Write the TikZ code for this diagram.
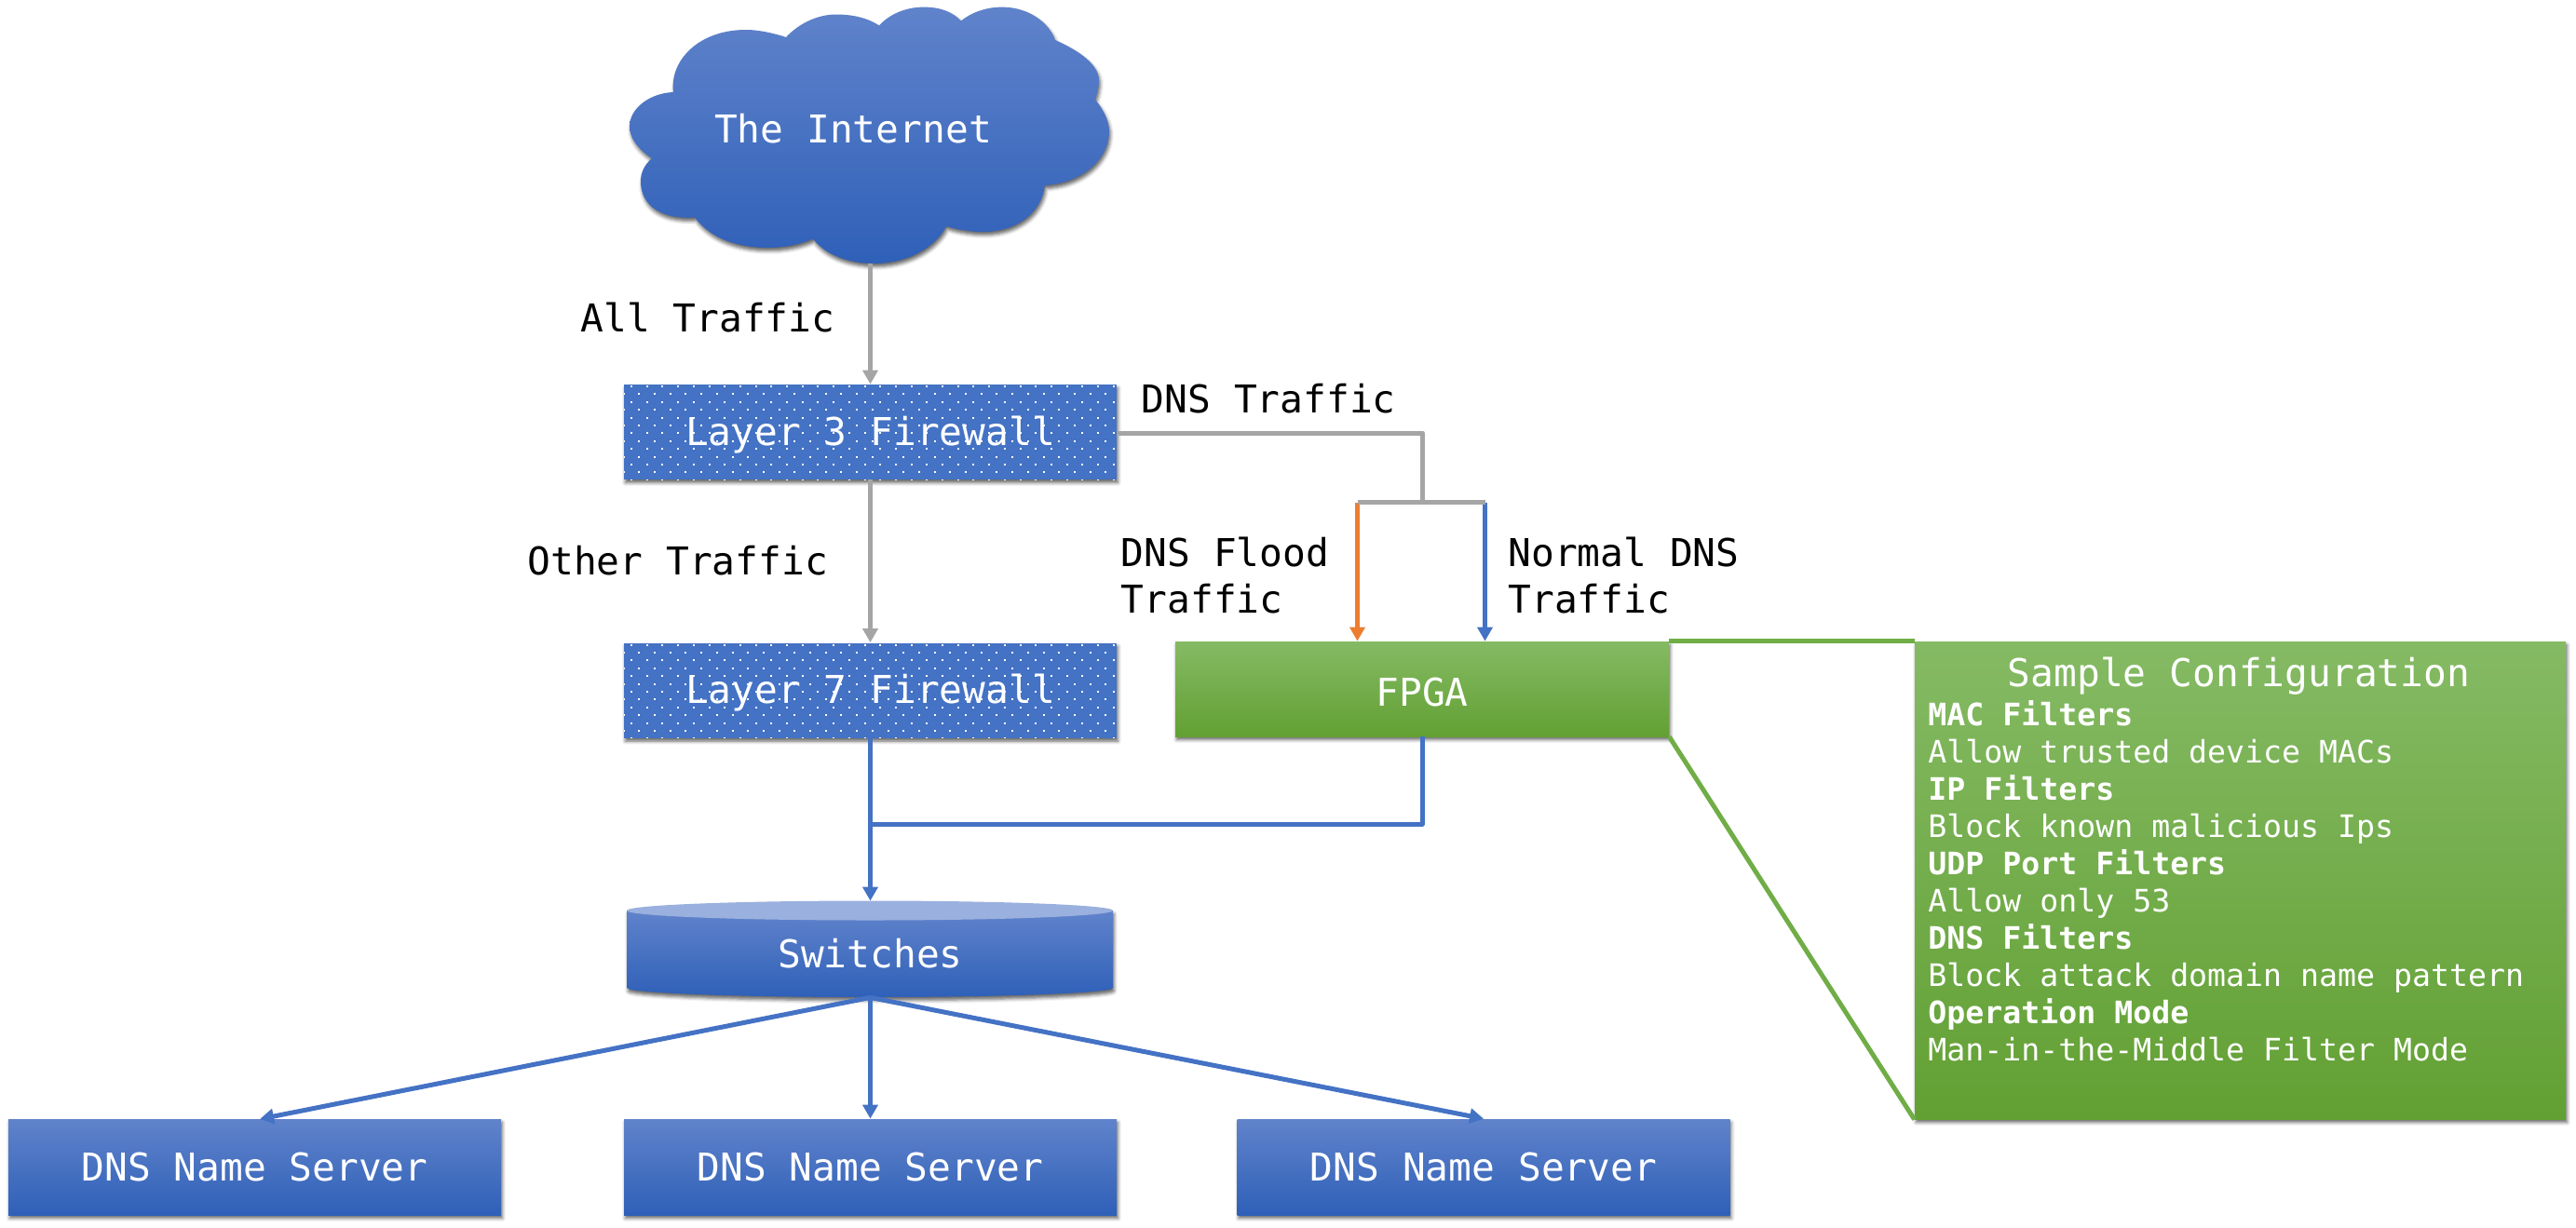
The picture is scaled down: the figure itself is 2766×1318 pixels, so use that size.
\documentclass[tikz,border=0pt]{standalone}
\usepackage{fontspec}
\setmainfont{DejaVu Sans Mono}
\setmonofont{DejaVu Sans Mono}
\usetikzlibrary{arrows.meta,shadows,shadows.blur}
\definecolor{bluemid}{HTML}{4472C4}
\definecolor{bluetop}{HTML}{6083CB}
\definecolor{bluebot}{HTML}{2F60B8}
\definecolor{bluelid}{HTML}{9AB0DE}
\definecolor{greenmid}{HTML}{70AD47}
\definecolor{greentop}{HTML}{85BA64}
\definecolor{greenbot}{HTML}{62A033}
\definecolor{greyline}{HTML}{A5A5A5}
\definecolor{orangeline}{HTML}{ED7D31}
\tikzset{
  softshadow/.style={blur shadow={shadow xshift=0.7pt,shadow yshift=-1.8pt,shadow blur radius=1.8pt,shadow opacity=60}},
  bluegrad/.style={top color=bluetop,middle color=bluemid,bottom color=bluebot},
  greengrad/.style={top color=greentop,middle color=greenmid,bottom color=greenbot},
  bigtext/.style={font=\fontsize{20.6pt}{24.7pt}\selectfont},
  smalltext/.style={font=\fontsize{16.6pt}{20pt}\selectfont},
  serverbox/.style={rectangle,draw=none,inner sep=0pt,minimum width=264.5pt,minimum height=51.5pt,bluegrad,softshadow,text=white,bigtext},
  wallbox/.style={rectangle,fill=bluemid,inner sep=0pt,minimum width=264.5pt,minimum height=51pt,softshadow},
  walltext/.style={text=white,bigtext,inner sep=0pt},
  fpgabox/.style={rectangle,inner sep=0pt,minimum width=265pt,minimum height=51pt,greengrad,softshadow,text=white,bigtext},
  lab/.style={text=black,bigtext,inner sep=0pt,anchor=west,align=left},
  greyarrow/.style={draw=greyline,line width=2.5pt,-{Triangle[length=7.5pt,width=8pt]}},
  greywire/.style={draw=greyline,line width=2.5pt},
  bluearrow/.style={draw=bluemid,line width=2.5pt,-{Triangle[length=7.5pt,width=8pt]}},
  bluewire/.style={draw=bluemid,line width=2.5pt},
  orangearrow/.style={draw=orangeline,line width=2.5pt,-{Triangle[length=7.5pt,width=8pt]}},
  greenwire/.style={draw=greenmid,line width=2.5pt},
  walldots/.pic={
    \foreach \r in {0,...,12}{
      \pgfmathtruncatemacro{\odd}{mod(\r,2)}
      \foreach \c in {0,...,32}{
        \fill[white] ({-264.5+8+16.7*\c-8.35*\odd-1},{-49+8.4*\r-1}) rectangle +(2,2);
      }
    }
  },
}
\begin{document}
\begin{tikzpicture}[x=0.5pt,y=-0.5pt]
\useasboundingbox (0,0) rectangle (2766,1318);

% cloud
\path[softshadow,bluegrad] (723,99)
  .. controls (719,65) and (750,32) .. (801,32)
  .. controls (815,32) and (832,36) .. (844,40)
  .. controls (858,25) and (878,15.5) .. (898,15.5)
  .. controls (917,15.5) and (933,20) .. (944,27.5)
  .. controls (955,15) and (973,7.6) .. (992,7.6)
  .. controls (1010,7.6) and (1023,13) .. (1032,22.4)
  .. controls (1042,14) and (1058,7.6) .. (1076,7.6)
  .. controls (1105,7.6) and (1127,25) .. (1133,43)
  .. controls (1160,55) and (1180,70) .. (1180,86)
  .. controls (1180,94) and (1178,100) .. (1176,107)
  .. controls (1185,118) and (1191,130) .. (1191,141)
  .. controls (1191,172) and (1160,197) .. (1122,199)
  .. controls (1118,230) and (1090,249) .. (1055,249)
  .. controls (1040,249) and (1026,246) .. (1016,243)
  .. controls (1005,265) and (975,283) .. (938.6,283)
  .. controls (908,283) and (885,272) .. (873,256.5)
  .. controls (858,263) and (842,266) .. (824,266)
  .. controls (790,266) and (762,255) .. (746,233.5)
  .. controls (712,236) and (688,222) .. (688,195)
  .. controls (688,185) and (692,177) .. (700,170)
  .. controls (685,160) and (676,148) .. (676,136)
  .. controls (676,116) and (698,100) .. (723,99) -- cycle;
\node[walltext] (cloud) at (916,138) {The Internet};
\coordinate (cloudfoot) at (934.5,283);

% firewalls
\node[wallbox] (fw3) at (934.5,464) {};
\begin{scope}[shift={(934.5,464)}]
  \clip (-264.5,-51) rectangle (264.5,51);
  \pic {walldots};
\end{scope}
\node[walltext] at (934.5,467) {Layer 3 Firewall};

\node[wallbox] (fw7) at (934.5,741.5) {};
\begin{scope}[shift={(934.5,741.5)}]
  \clip (-264.5,-51) rectangle (264.5,51);
  \pic {walldots};
\end{scope}
\node[walltext] at (934.5,744) {Layer 7 Firewall};

% fpga
\node[fpgabox] (fpga) at (1527,740) {};
\node[walltext] at (1527,743) {FPGA};

% config panel
\node[rectangle,inner sep=0pt,minimum width=349.5pt,minimum height=256.5pt,greengrad,softshadow] (config) at (2405.5,945.5) {};
\node[walltext] (cfgtitle) at (2404,726) {Sample Configuration};
\node[inner sep=0pt,anchor=north west,align=left,text=white,smalltext] (cfgbody) at (2070,752) {%
\textbf{MAC Filters}\\
Allow trusted device MACs\\
\textbf{IP Filters}\\
Block known malicious Ips\\
\textbf{UDP Port Filters}\\
Allow only 53\\
\textbf{DNS Filters}\\
Block attack domain name pattern\\
\textbf{Operation Mode}\\
Man-in-the-Middle Filter Mode};

% switches
\path[softshadow,bluegrad] (673,978) -- (673,1061)
  arc[start angle=180,end angle=0,x radius=261,y radius=10]
  -- (1195,978) -- cycle;
\fill[bluelid] (934,978) ellipse [x radius=261,y radius=10.5];
\node[inner sep=0pt,minimum width=261pt,minimum height=51.5pt] (sw) at (934.5,1019.5) {};
\node[walltext] at (934.5,1024) {Switches};

% servers
\node[serverbox] (dns1) at (273.5,1253.5) {DNS Name Server};
\node[serverbox] (dns2) at (934.5,1253.5) {DNS Name Server};
\node[serverbox] (dns3) at (1593,1253.5) {DNS Name Server};

% junction points
\coordinate (dnsturn) at (1527.5,465);
\coordinate (split) at (1527.5,539.5);
\coordinate (splitl) at (1457.5,539.5);
\coordinate (splitr) at (1594.5,539.5);
\coordinate (merge) at (934.5,885);
\coordinate (dnsonein) at (279,1202);

% connectors
\draw[greyarrow] (cloudfoot) -- (fw3.north);
\draw[greyarrow] (fw3.south) -- (fw7.north);
\draw[greywire,line join=round] (fw3.east |- dnsturn) -- (dnsturn) -- (split);
\draw[orangearrow] (splitl) -- (splitl |- fpga.north);
\draw[bluearrow] (splitr) -- (splitr |- fpga.north);
\draw[greywire] (splitl) -- (splitr);
\draw[bluearrow] (fw7.south) -- (sw.north);
\draw[bluewire,line join=round] (fpga.south) -- (fpga.south |- merge) -- (merge);
\draw[bluearrow] (sw.south) -- (dnsonein);
\draw[bluearrow] (sw.south) -- (dns2.north);
\draw[bluearrow] (sw.south) -- (dns3.north);
\draw[greenwire] (fpga.north east) -- (config.north west);
\draw[greenwire] (fpga.south east) -- (config.south west);

% labels
\node[lab] (l1) at (623,341) {All Traffic};
\node[lab] (l2) at (1225.5,428.5) {DNS Traffic};
\node[lab] (l3) at (566,602) {Other Traffic};
\node[lab] (l4) at (1203.5,618) {DNS Flood\\Traffic};
\node[lab] (l5) at (1619,618) {Normal DNS\\Traffic};
\end{tikzpicture}
\end{document}
